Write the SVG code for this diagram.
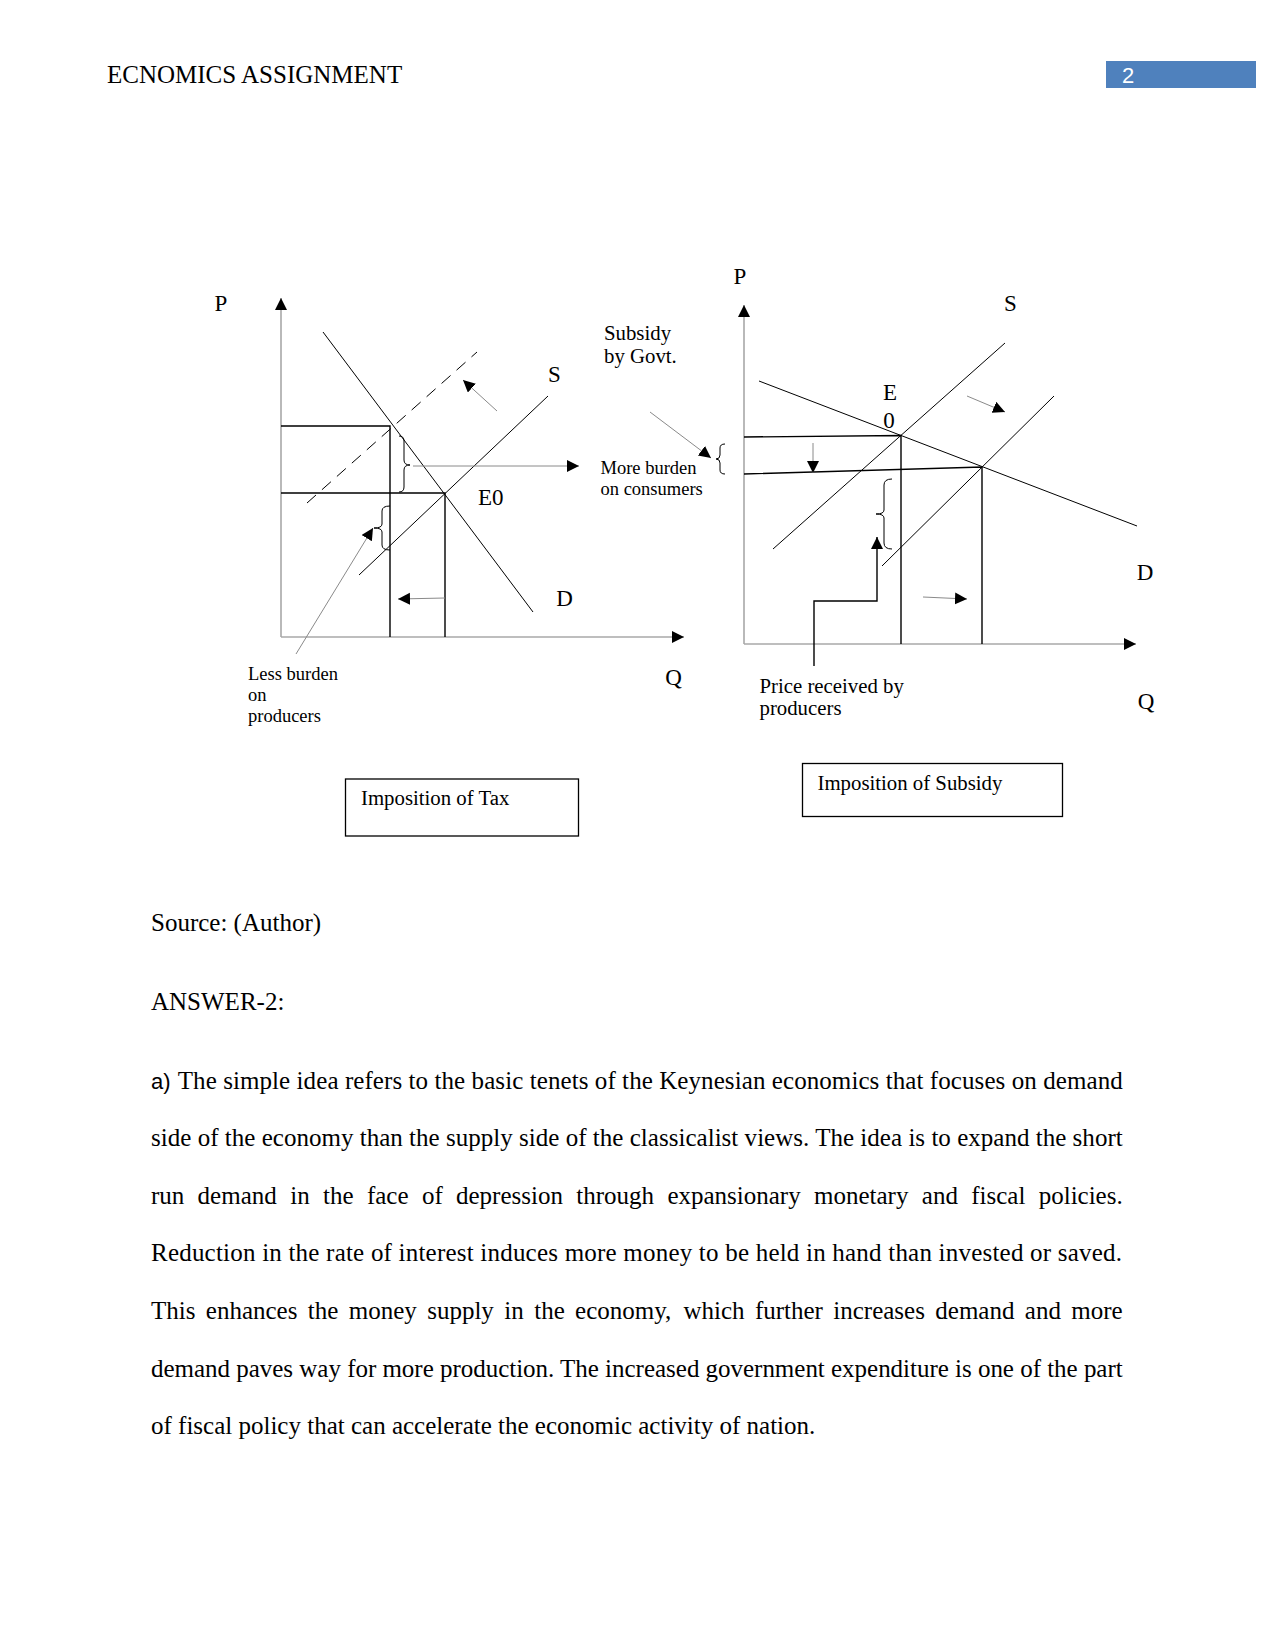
<svg xmlns="http://www.w3.org/2000/svg" width="1275" height="1650" viewBox="0 0 1275 1650">
<style>
  text { font-family: "Liberation Serif", "Times New Roman", serif; fill: #000; }
  .hdr { font-size: 25px; }
  .body { font-size: 25px; }
  .lbl { font-size: 23px; }
  .sm { font-size: 18.5px; }
  .md { font-size: 20.8px; }
  .axis { stroke: #a8a8a8; stroke-width: 1.6; fill: none; }
  .curve { stroke: #000; stroke-width: 1; fill: none; }
  .guide { stroke: #000; stroke-width: 1.4; fill: none; }
  .ptr { stroke: #8a8a8a; stroke-width: 1; fill: none; }
  .brace { stroke: #000; stroke-width: 1; fill: none; }
  .box { stroke: #000; stroke-width: 1.3; fill: #fff; }
</style>
<defs>
  <marker id="ah" markerUnits="userSpaceOnUse" markerWidth="13" markerHeight="13" refX="12" refY="6" orient="auto">
    <path d="M0,0 L12,6 L0,12 z" fill="#000"/>
  </marker>
</defs>
<rect width="1275" height="1650" fill="#fff"/>

<!-- Header -->
<g id="header">
  <text class="hdr" x="107" y="83">ECNOMICS ASSIGNMENT</text>
  <rect x="1106" y="61" width="150" height="27" fill="#4f81bd"/>
  <text x="1122" y="83" style="font-family:'Liberation Sans',Arial,sans-serif;font-size:22px;fill:#fff">2</text>
</g>

<!-- Tax diagram -->
<g id="tax-diagram">
  <g id="tax-axes">
    <line class="axis" x1="281" y1="637" x2="281" y2="298" marker-end="url(#ah)"/>
    <line class="axis" x1="281" y1="637" x2="684" y2="637" marker-end="url(#ah)"/>
  </g>
  <g id="tax-curves">
    <line id="tax-D" class="curve" x1="323" y1="332" x2="533" y2="612"/>
    <line id="tax-S" class="curve" x1="359" y1="575" x2="548" y2="396"/>
    <line id="tax-S2" class="curve" x1="307" y1="503" x2="477" y2="352" stroke-dasharray="12,8"/>
  </g>
  <g id="tax-guides">
    <polyline class="guide" points="281,426 390,426 390,637"/>
    <polyline class="guide" points="281,493 445,493 445,637"/>
  </g>
  <g id="tax-braces">
    <path class="brace" d="M399,436 Q404,436 404,441 L404,460 Q404,465 410,465 Q404,465 404,470 L404,487 Q404,492 399,492"/>
    <path class="brace" d="M390,506 Q382,506 382,511 L382,524 Q382,528 374,528 Q382,528 382,532 L382,545 Q382,550 390,550"/>
  </g>
  <g id="tax-connectors">
    <line class="ptr" x1="413" y1="466" x2="579" y2="466" marker-end="url(#ah)"/>
    <line class="ptr" x1="497" y1="411" x2="463" y2="380" marker-end="url(#ah)"/>
    <line class="ptr" x1="445" y1="598" x2="398" y2="599" marker-end="url(#ah)"/>
    <line class="ptr" x1="296" y1="654" x2="373" y2="528" marker-end="url(#ah)"/>
  </g>
  <g id="tax-labels">
    <text class="lbl" x="221" y="311" text-anchor="middle">P</text>
    <text class="lbl" x="554.5" y="382" text-anchor="middle">S</text>
    <text class="lbl" x="478" y="505">E0</text>
    <text class="lbl" x="564.5" y="606" text-anchor="middle">D</text>
    <text class="lbl" x="673.5" y="685" text-anchor="middle">Q</text>
    <text class="sm" x="248" y="680">Less burden</text>
    <text class="sm" x="248" y="701">on</text>
    <text class="sm" x="248" y="722">producers</text>
  </g>
  <g id="tax-title">
    <rect class="box" x="345.5" y="779" width="233" height="57"/>
    <text class="md" x="361" y="805">Imposition of Tax</text>
  </g>
</g>

<!-- Subsidy diagram -->
<g id="subsidy-diagram">
  <g id="sub-axes">
    <line class="axis" x1="744" y1="644" x2="744" y2="305" marker-end="url(#ah)"/>
    <line class="axis" x1="744" y1="644" x2="1136" y2="644" marker-end="url(#ah)"/>
  </g>
  <g id="sub-curves">
    <line id="sub-D" class="curve" x1="759" y1="381" x2="1137" y2="526"/>
    <line id="sub-S" class="curve" x1="773" y1="549" x2="1005" y2="343"/>
    <line id="sub-S2" class="curve" x1="882" y1="566" x2="1054" y2="396"/>
  </g>
  <g id="sub-guides">
    <polyline class="guide" points="744,437 901,435.5 901,644"/>
    <polyline class="guide" points="744,474 982,467 982,644"/>
  </g>
  <g id="sub-braces">
    <path class="brace" d="M725,444 Q720,444 720,448 L720,455 Q720,459 716,459 Q720,459 720,463 L720,470 Q720,474 725,474"/>
    <path class="brace" d="M892,479 Q884,479 884,485 L884,510 Q884,514 876,514 Q884,514 884,518 L884,543 Q884,549 892,549"/>
  </g>
  <g id="sub-connectors">
    <line class="ptr" x1="650" y1="412" x2="711" y2="458" marker-end="url(#ah)"/>
    <line class="ptr" x1="813" y1="443" x2="813" y2="473" marker-end="url(#ah)"/>
    <line class="ptr" x1="967" y1="396" x2="1005" y2="412" marker-end="url(#ah)"/>
    <line class="ptr" x1="923" y1="597" x2="967" y2="599" marker-end="url(#ah)"/>
    <polyline class="guide" points="814,666 814,601 877,601 877,537" marker-end="url(#ah)"/>
  </g>
  <g id="sub-labels">
    <text class="lbl" x="740" y="284" text-anchor="middle">P</text>
    <text class="lbl" x="1010.5" y="311" text-anchor="middle">S</text>
    <text class="lbl" x="890" y="400" text-anchor="middle">E</text>
    <text class="lbl" x="889" y="428" text-anchor="middle">0</text>
    <text class="lbl" x="1145" y="580" text-anchor="middle">D</text>
    <text class="lbl" x="1146" y="709" text-anchor="middle">Q</text>
    <text class="md" x="604" y="339.5">Subsidy</text>
    <text class="md" x="604" y="363">by Govt.</text>
    <text class="sm" x="600.5" y="474">More burden</text>
    <text class="sm" x="600.5" y="495">on consumers</text>
    <text class="md" x="759.5" y="692.5">Price received by</text>
    <text class="md" x="759.5" y="715">producers</text>
  </g>
  <g id="sub-title">
    <rect class="box" x="802.5" y="763.5" width="260" height="53"/>
    <text class="md" x="817.5" y="790">Imposition of Subsidy</text>
  </g>
</g>

<!-- Body text -->
<g id="body-text">
  <text class="body" x="151" y="931">Source: (Author)</text>
  <text class="body" x="151" y="1009.5">ANSWER-2:</text>
  <text x="151" y="1088.5" style="font-family:'Liberation Sans',Arial,sans-serif;font-size:22px">a)</text>
  <text class="body" x="177.7" y="1088.5" textLength="945" lengthAdjust="spacing">The simple idea refers to the basic tenets of the Keynesian economics that focuses on demand</text>
  <text class="body" x="151" y="1146" textLength="971.7" lengthAdjust="spacing">side of the economy than the supply side of the classicalist views. The idea is to expand the short</text>
  <text class="body" y="1203.7"><tspan x="151">run</tspan><tspan x="197.6">demand</tspan><tspan x="290.2">in</tspan><tspan x="323">the</tspan><tspan x="366.9">face</tspan><tspan x="421.9">of</tspan><tspan x="456">depression</tspan><tspan x="576.2">through</tspan><tspan x="667.4">expansionary</tspan><tspan x="814">monetary</tspan><tspan x="921.8">and</tspan><tspan x="971.2">fiscal</tspan><tspan x="1038.7">policies.</tspan></text>
  <text class="body" x="151" y="1261.3" textLength="971" lengthAdjust="spacing">Reduction in the rate of interest induces more money to be held in hand than invested or saved.</text>
  <text class="body" y="1319"><tspan x="151">This</tspan><tspan x="205.8">enhances</tspan><tspan x="307.8">the</tspan><tspan x="348.8">money</tspan><tspan x="427.2">supply</tspan><tspan x="504.3">in</tspan><tspan x="534.2">the</tspan><tspan x="575.1">economy,</tspan><tspan x="683.4">which</tspan><tspan x="754.9">further</tspan><tspan x="833.3">increases</tspan><tspan x="935.3">demand</tspan><tspan x="1024.8">and</tspan><tspan x="1071.3">more</tspan></text>
  <text class="body" x="151" y="1376.6" textLength="971.7" lengthAdjust="spacing">demand paves way for more production. The increased government expenditure is one of the part</text>
  <text class="body" x="151" y="1434.2">of fiscal policy that can accelerate the economic activity of nation.</text>
</g>
</svg>
